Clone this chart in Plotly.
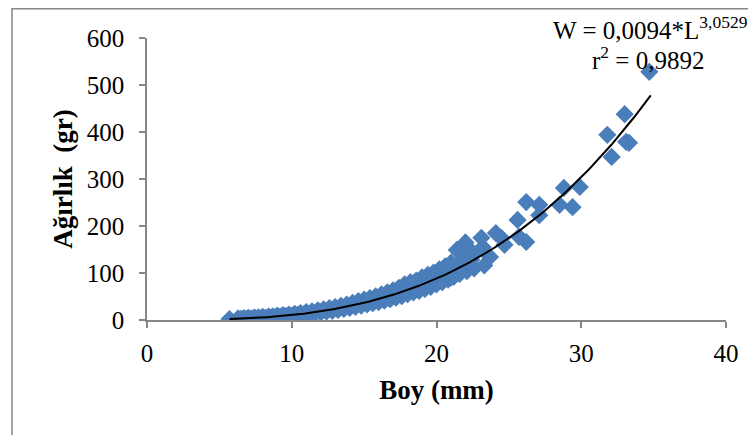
import plotly.graph_objects as go

boy = [5.7, 6.3, 6.5, 6.7, 6.9, 7.0, 7.2, 7.4, 7.5, 7.7, 7.9, 8.0, 8.2, 8.4, 8.5, 8.7,
       8.9, 9.0, 9.2, 9.4, 9.6, 9.8, 10.0, 10.2, 10.4, 10.6, 10.8, 11.0, 11.2, 11.4,
       11.6, 11.8, 12.0, 12.2, 12.4, 12.6, 12.8, 13.0, 13.2, 13.4, 13.6, 13.8, 14.0,
       14.2, 14.4, 14.6, 14.8, 15.0, 15.2, 15.4, 15.6, 15.8, 16.0, 16.2, 16.4, 16.5,
       16.6, 16.8, 17.0, 17.2, 17.4, 17.5, 17.6, 17.8, 18.0, 18.2, 18.4, 18.5, 18.6,
       18.8, 19.0, 19.2, 19.4, 19.5, 19.6, 19.8, 20.0, 20.2, 20.4, 20.5, 20.6, 20.8,
       21.0, 21.0, 21.2, 21.4, 21.5, 21.6, 21.8, 22.0, 22.0, 22.1, 22.3, 22.4, 22.5,
       22.6, 23.1, 23.2, 23.3, 23.7, 24.1, 24.5, 24.7, 25.6, 25.7, 26.2, 26.2, 27.1,
       27.1, 28.5, 28.8, 29.4, 29.9, 31.8, 32.1, 33.0, 33.1, 33.3, 34.7]
agirlik = [2.0, 3.5, 2.2, 4.0, 2.5, 4.6, 3.1, 5.2, 3.6, 5.8, 4.1, 6.5, 4.8, 7.5, 5.3, 8.0,
           6.2, 9.1, 7.0, 10.4, 8.1, 11.5, 9.0, 13.2, 10.4, 14.6, 11.6, 16.8, 13.0, 18.5,
           14.2, 20.6, 16.0, 22.8, 17.9, 25.1, 19.4, 27.5, 21.3, 30.2, 23.6, 33.0, 25.8,
           36.4, 28.0, 40.2, 30.5, 43.5, 33.2, 46.8, 35.6, 50.4, 38.2, 54.5, 41.0, 52.0,
           58.6, 44.3, 63.0, 47.5, 68.5, 62.0, 51.0, 76.0, 55.0, 80.4, 58.5, 72.0, 84.0,
           62.0, 90.5, 66.0, 96.0, 85.0, 70.5, 101.0, 76.0, 108.0, 80.5, 100.0, 114.0, 86.0,
           122.0, 90.0, 92.0, 149.0, 120.0, 98.0, 130.0, 165.0, 140.0, 104.0, 150.0, 128.0, 140.0,
           110.0, 175.0, 155.0, 116.0, 134.0, 185.0, 174.0, 160.0, 213.0, 177.0, 251.0, 166.0, 245.0,
           223.0, 245.0, 281.0, 240.0, 283.0, 394.0, 347.0, 438.0, 379.0, 377.0, 528.0]

# Power trendline W = a * L^b
a_coef = 0.0094
b_coef = 3.0529
trend_L = [5.7 + i * (34.8 - 5.7) / 200 for i in range(201)]
trend_W = [a_coef * L ** b_coef for L in trend_L]

x_ticks = [0, 10, 20, 30, 40]
y_ticks = [0, 100, 200, 300, 400, 500, 600]

fig = go.Figure()
fig.add_trace(go.Scatter(
    x=boy, y=agirlik, mode="markers",
    marker=dict(symbol="diamond", size=14, color="#4A7EBB",
                line=dict(color="#4A7EBB", width=0)),
    showlegend=False, hoverinfo="skip"))
fig.add_trace(go.Scatter(
    x=trend_L, y=trend_W, mode="lines",
    line=dict(color="black", width=2), showlegend=False, hoverinfo="skip"))

serif = "Liberation Serif, Times New Roman, serif"
axis_font = dict(family=serif, size=25, color="black")
title_font = dict(family=serif, size=27, color="black")
ann_font = dict(family=serif, size=25, color="black")

# page body has an 8px margin, so the figure is sized to fit the window
fig.update_layout(
    width=748, height=427,
    margin=dict(l=139, r=30, t=30, b=115),
    paper_bgcolor="white", plot_bgcolor="white",
    font=axis_font,
    xaxis=dict(range=[0, 40], tickvals=x_ticks, showgrid=False, zeroline=False,
               showline=True, linecolor="#868686", linewidth=1.5, automargin=False,
               ticks="outside", ticklen=6, tickcolor="#868686", tickwidth=1.5,
               ticklabelstandoff=4, tickfont=axis_font,
               title=dict(text="<b>Boy (mm)</b>", font=title_font, standoff=14)),
    yaxis=dict(range=[0, 600], tickvals=y_ticks, showgrid=False, zeroline=False,
               showline=True, linecolor="#868686", linewidth=1.5, automargin=False,
               ticks="outside", ticklen=6, tickcolor="#868686", tickwidth=1.5,
               ticklabelstandoff=10, tickfont=axis_font,
               title=dict(text="<b>Ağırlık\u00a0\u00a0(gr)</b>", font=title_font, standoff=6)),
    shapes=[dict(type="rect", xref="paper", yref="paper",
                 x0=-0.2332, x1=1.07, y0=-0.45, y1=1.1037,
                 line=dict(color="#878787", width=1.5), fillcolor="rgba(0,0,0,0)",
                 layer="below")],
    annotations=[
        dict(text="W = 0,0094*L<sup>3,0529</sup>", xref="paper", yref="paper",
             x=0.869, y=1.035, xanchor="center", yanchor="middle", showarrow=False,
             font=ann_font),
        dict(text="r<sup>2</sup> = 0,9892", xref="paper", yref="paper",
             x=0.865, y=0.929, xanchor="center", yanchor="middle", showarrow=False,
             font=ann_font),
    ],
)

fig.write_html("out.html")
